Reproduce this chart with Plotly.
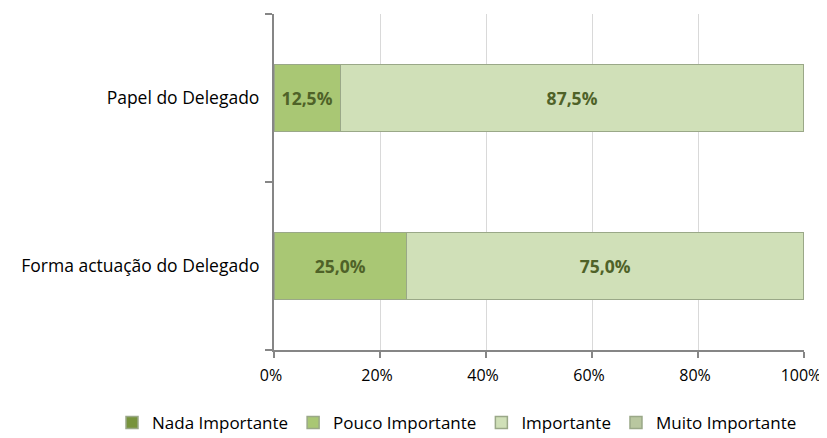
import plotly.graph_objects as go

categories = ["Forma actuação do Delegado", "Papel do Delegado"]
series_names = ["Nada Importante", "Pouco Importante", "Importante", "Muito Importante"]
nada = [0.0, 0.0]
pouco = [0.25, 0.125]
importante = [0.75, 0.875]
muito = [0.0, 0.0]
colors = ["#77933c", "#a9c774", "#d0e0b8", "#b9c7a0"]
xtick_vals = [0, 0.2, 0.4, 0.6, 0.8, 1.0]
xtick_text = ["0%", "20%", "40%", "60%", "80%", "100%"]

FONT = "'Open Sans', sans-serif"
W, H = 819, 430
L, R, T, B = 266, 23, 6, 88
PW, PH = W - L - R, H - T - B

fig = go.Figure()
for name, vals, col in zip(series_names, [nada, pouco, importante, muito], colors):
    texts = [("%.1f%%" % (v * 100)).replace(".", ",") if v > 0 else "" for v in vals]
    fig.add_trace(go.Bar(
        y=categories, x=vals, name=name, orientation="h",
        marker=dict(color=col, line=dict(color="#9aa888", width=1.5)),
        text=texts, textposition="inside", insidetextanchor="middle",
        textfont=dict(family=FONT, size=17.5, color="#4f6228", weight="bold"),
        hoverinfo="skip",
    ))

fig.update_layout(
    barmode="stack",
    bargap=0.6,
    width=W, height=H,
    margin=dict(l=L, r=R, t=T, b=B, autoexpand=False),
    plot_bgcolor="white", paper_bgcolor="white",
    font=dict(family=FONT, size=17.5, color="#000000"),
    showlegend=True,
    legend=dict(orientation="h",
                x=(104 - L) / PW, xanchor="left",
                y=(H - B - 415) / PH, yanchor="middle",
                font=dict(size=17), traceorder="normal", itemwidth=30,
                tracegroupgap=0),
    xaxis=dict(range=[0, 1], tickvals=xtick_vals, ticktext=xtick_text,
               showgrid=True, gridcolor="#d9d9d9", gridwidth=1,
               showline=True, linecolor="#868686", linewidth=2,
               ticks="outside", ticklen=6, tickcolor="#868686", tickwidth=1.5,
               zeroline=False, tickfont=dict(size=16), automargin=False,
               ticklabelstandoff=4, ticklabelshift=-3),
    yaxis=dict(showline=True, linecolor="#868686", linewidth=2,
               ticks="outside", ticklen=7, tickcolor="#868686", tickwidth=1.5,
               tickson="boundaries", showgrid=False, tickfont=dict(size=17.5),
               ticksuffix="  ", automargin=False),
)

fig.write_html("out.html")
